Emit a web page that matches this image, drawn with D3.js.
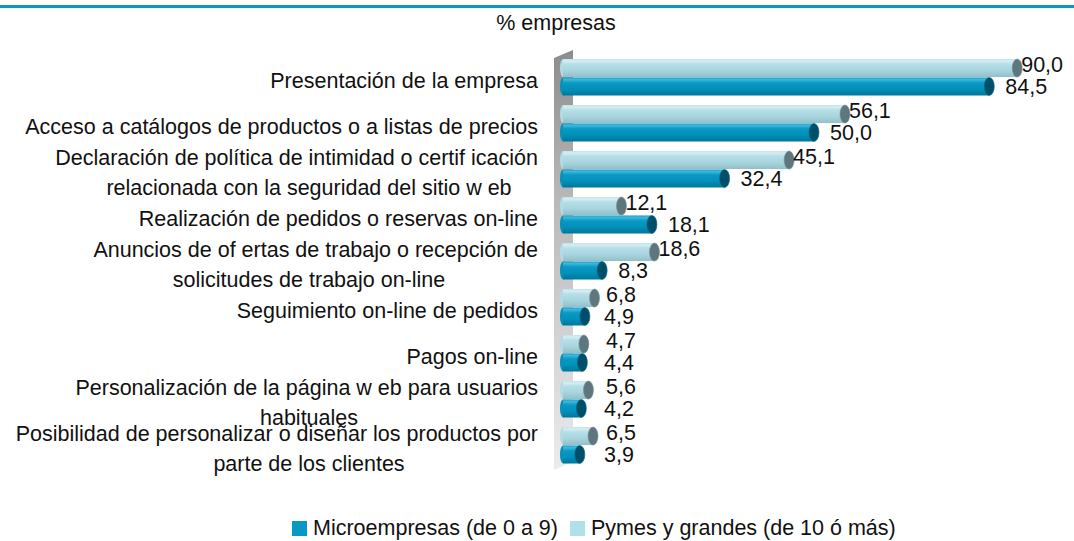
<!DOCTYPE html>
<html><head><meta charset="utf-8">
<script src="https://cdn.jsdelivr.net/npm/d3@7"></script>
<style>
body{margin:0;background:#fff;}
text{font-family:"Liberation Sans",Arial,sans-serif;fill:#111;}
</style></head>
<body>
<svg id="c" width="1074" height="541"></svg>
<script>
const categoryLines = [
  ["Presentación de la empresa"],
  ["Acceso a catálogos de productos o a listas de precios"],
  ["Declaración de política de intimidad o certif icación", "relacionada con la seguridad del sitio w eb"],
  ["Realización de pedidos o reservas on-line"],
  ["Anuncios de of ertas de trabajo o recepción de", "solicitudes de trabajo on-line"],
  ["Seguimiento on-line de pedidos"],
  ["Pagos on-line"],
  ["Personalización de la página w eb para usuarios", "habituales"],
  ["Posibilidad de personalizar o diseñar los productos por", "parte de los clientes"]
];
const pymes = [90.0, 56.1, 45.1, 12.1, 18.6, 6.8, 4.7, 5.6, 6.5];
const micro = [84.5, 50.0, 32.4, 18.1, 8.3, 4.9, 4.4, 4.2, 3.9];
const seriesNames = ["Microempresas (de 0 a 9)", "Pymes y grandes (de 10 ó más)"];
const axisTitle = "% empresas";

const svg = d3.select("#c");
const W = 1074, H = 541;
const fs = 21.5;

// top rule
svg.append("rect").attr("x", 0).attr("y", 5).attr("width", W).attr("height", 3).attr("fill", "#0a98c2");

const x = d3.scaleLinear().domain([0, 100]).range([560, 1068]);
const idx = d3.range(categoryLines.length);
const y = d3.scaleBand().domain(idx).range([54, 468]).padding(0);
const sub = d3.scaleBand().domain(["p", "m"]).range([5, 41.5]).paddingInner(0.02);

const defs = svg.append("defs");
function grad(id, stops) {
  const g = defs.append("linearGradient").attr("id", id)
    .attr("x1", 0).attr("y1", 0).attr("x2", 0).attr("y2", 1);
  stops.forEach(s => g.append("stop").attr("offset", s[0]).attr("stop-color", s[1]));
}
grad("gl", [[0, "#c0e4ec"], [0.12, "#d4eef4"], [0.28, "#b6dee7"], [0.6, "#a9d6df"], [1, "#93bfc8"]]);
grad("gd", [[0, "#1aa2ca"], [0.12, "#40b6da"], [0.3, "#0a99c3"], [0.65, "#0090b8"], [1, "#00769c"]]);
grad("gw", [[0, "#8c8c8c"], [0.35, "#b8b8b8"], [1, "#ececec"]]);

// wall
const x0 = x(0);
const yTop = y.range()[0], yBot = y.range()[1];
svg.append("path")
  .attr("d", `M${x0 - 6},${yTop + 4} L${x0 + 13},${yTop - 4} L${x0 + 13},${yBot - 6} L${x0 - 6},${yBot + 2} Z`)
  .attr("fill", "url(#gw)");

const series = [
  {key: "p", vals: pymes, fill: "url(#gl)", cap: "#5e767e", capEdge: "#7a9299", left: "#b2dbe4"},
  {key: "m", vals: micro, fill: "url(#gd)", cap: "#004f6a", capEdge: "#0a6c8a", left: "#0790b8"}
];
const fmt = v => d3.format(".1f")(v).replace(".", ",");

series.forEach(s => {
  const g = svg.append("g");
  const bh = sub.bandwidth();
  idx.forEach(i => {
    const v = s.vals[i];
    const top = y(i) + sub(s.key);
    const xe = x(v);
    g.append("ellipse").attr("cx", x0 + 3).attr("cy", top + bh / 2).attr("rx", 3).attr("ry", bh / 2).attr("fill", s.left);
    g.append("rect").attr("x", x0 + 3).attr("y", top).attr("width", Math.max(0, xe - x0 - 3)).attr("height", bh).attr("fill", s.fill);
    g.append("ellipse").attr("cx", xe).attr("cy", top + bh / 2).attr("rx", 5).attr("ry", bh / 2)
      .attr("fill", s.cap).attr("stroke", s.capEdge).attr("stroke-width", 0.6);
  });
});

// value labels
const labG = svg.append("g").attr("font-size", fs);
idx.forEach(i => {
  const bh = sub.bandwidth();
  const tp = y(i) + sub("p");
  const tm = y(i) + sub("m");
  labG.append("text").attr("x", Math.max(x(pymes[i]) + 4, 606)).attr("y", tp + bh / 2 - 4)
    .attr("dy", "0.35em").text(fmt(pymes[i]));
  labG.append("text").attr("x", Math.max(x(micro[i]) + 16, 604)).attr("y", tm + bh / 2)
    .attr("dy", "0.35em").text(fmt(micro[i]));
});

// category labels
const catG = svg.append("g").attr("font-size", fs);
idx.forEach(i => {
  const c = y(i) + y.bandwidth() / 2;
  const lines = categoryLines[i];
  if (lines.length === 1) {
    catG.append("text").attr("x", 538).attr("y", c + 10.5)
      .attr("text-anchor", "end").text(lines[0]);
  } else {
    catG.append("text").attr("x", 538).attr("y", c - 4)
      .attr("text-anchor", "end").text(lines[0]);
    catG.append("text").attr("x", 309).attr("y", c + 26)
      .attr("text-anchor", "middle").text(lines[1]);
  }
});

// axis title
svg.append("text").attr("x", 556).attr("y", 22).attr("dy", "0.35em").attr("text-anchor", "middle")
  .attr("font-size", fs).text(axisTitle);

// legend
const leg = svg.append("g").attr("font-size", fs);
const legItems = [
  {name: seriesNames[0], color: "#0898c4", x: 292},
  {name: seriesNames[1], color: "#b2e0ea", x: 570}
];
legItems.forEach(d => {
  leg.append("rect").attr("x", d.x).attr("y", 521).attr("width", 15).attr("height", 15).attr("fill", d.color);
  leg.append("text").attr("x", d.x + 21).attr("y", 535).text(d.name);
});
</script>
</body></html>
